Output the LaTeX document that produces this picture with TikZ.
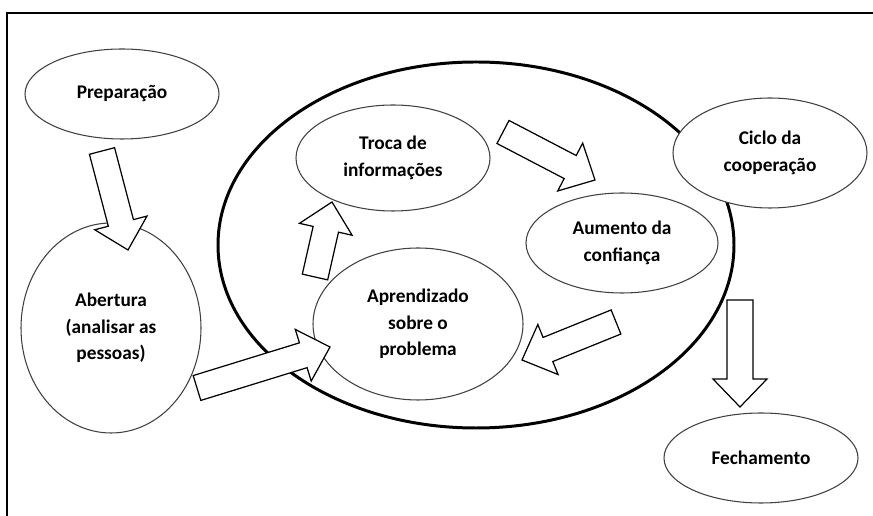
\documentclass[tikz,border=0pt]{standalone}
\usepackage{fontspec}
\setmainfont{Carlito}
\usetikzlibrary{shapes.geometric,calc}

% seta larga: #1 = cauda, #2 = ponta
\newcommand{\setalarga}[2]{%
  \coordinate (base) at ($(#2)!0.56cm!(#1)$);
  \draw[bloco] ($(#1)!0.26cm!90:(#2)$) -- ($(base)!0.26cm!-90:(#1)$)
    -- ($(base)!0.54cm!-90:(#1)$) -- (#2) -- ($(base)!0.54cm!90:(#1)$)
    -- ($(base)!0.26cm!90:(#1)$) -- ($(#1)!0.26cm!-90:(#2)$) -- cycle;}

\begin{document}
\begin{tikzpicture}[x=0.02cm,y=-0.02cm,
  tam/.style 2 args={minimum width=#1*0.02cm,minimum height=#2*0.02cm},
  etapa/.style={ellipse,draw=black!75,line width=0.6pt,fill=white,inner sep=0pt,
    align=center,font=\bfseries\fontsize{11}{15}\selectfont},
  bloco/.style={draw,line width=0.7pt,fill=white,line join=miter}]
\useasboundingbox (0,0) rectangle (873,516);
\draw[line width=1.2pt] (7,516) -- (7,13) -- (873,13);

% ciclo grande
\node[ellipse,draw,line width=1.7pt,tam={516}{366}] (ciclo) at (476,245) {};

% etapas
\node[etapa,tam={194}{90}] (prep) at (122,94) {Preparação};
\node[etapa,tam={180}{210}] (abert) at (111,328) {Abertura\\(analisar as\\pessoas)};
\node[etapa,tam={194}{106}] (troca) at (393,158) {Troca de\\informações};
\node[etapa,tam={192}{100}] (aumento) at (622,243) {Aumento da\\confiança};
\node[etapa,tam={210}{152}] (aprend) at (418,324) {Aprendizado\\sobre o\\problema};
\node[etapa,tam={194}{110}] (coop) at (770,153) {Ciclo da\\cooperação};
\node[etapa,tam={194}{90}] (fecha) at (761,458) {Fechamento};

% setas
\coordinate (c1) at (102,151); \coordinate (p1) at (128,250);
\coordinate (c2) at (197,388); \coordinate (p2) at (330,347);
\coordinate (c3) at (315,277); \coordinate (p3) at (332,202);
\coordinate (c4) at (503,132); \coordinate (p4) at (595,180);
\coordinate (c5) at (616,322); \coordinate (p5) at (522,360);
\coordinate (c6) at (740,300); \coordinate (p6) at (740,407);
\foreach \i in {1,...,6} {\setalarga{c\i}{p\i}}
\end{tikzpicture}
\end{document}
